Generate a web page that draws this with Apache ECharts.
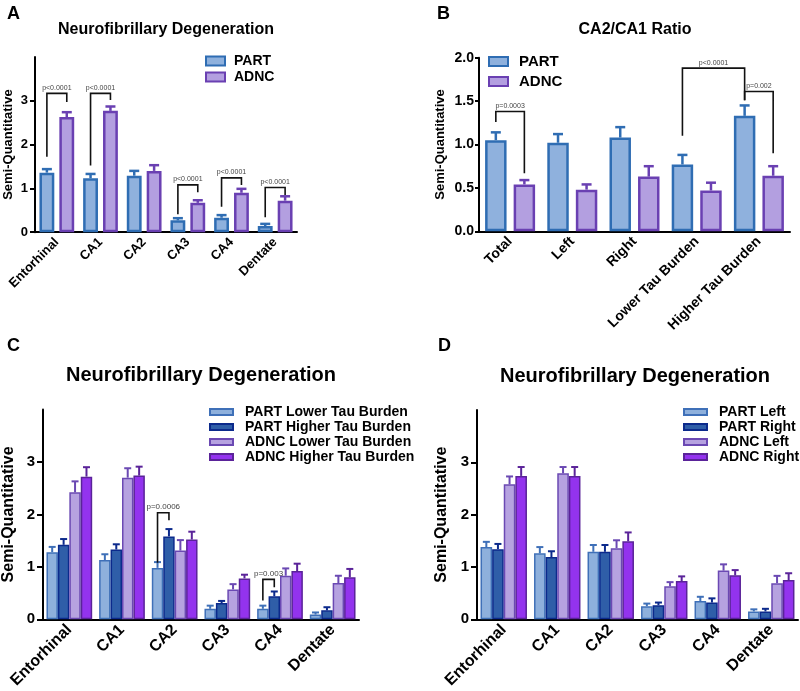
<!DOCTYPE html>
<html><head><meta charset="utf-8">
<script src="https://cdn.jsdelivr.net/npm/echarts@6/dist/echarts.min.js"></script>
<style>html,body{margin:0;padding:0;background:#fff}#c{width:800px;height:691px}</style>
</head><body><div id="c"></div>
<script>
// ---------- DATA ----------
const regions = ['Entorhinal', 'CA1', 'CA2', 'CA3', 'CA4', 'Dentate'];
const ratioCats = ['Total', 'Left', 'Right', 'Lower Tau Burden', 'Higher Tau Burden'];

// Panel A
const aPART = [1.36, 1.23, 1.29, 0.27, 0.33, 0.14];
const aPARTErr = [0.08, 0.10, 0.11, 0.05, 0.06, 0.05];
const aADNC = [2.63, 2.77, 1.40, 0.67, 0.90, 0.72];
const aADNCErr = [0.11, 0.10, 0.13, 0.06, 0.09, 0.10];

// Panel B
const bPART = [1.05, 1.02, 1.08, 0.77, 1.33];
const bPARTErr = [0.09, 0.10, 0.12, 0.11, 0.12];
const bADNC = [0.54, 0.48, 0.63, 0.47, 0.64];
const bADNCErr = [0.05, 0.06, 0.12, 0.09, 0.11];

// Panel C
const cPARTLow = [1.28, 1.13, 0.98, 0.20, 0.20, 0.09];
const cPARTLowErr = [0.10, 0.11, 0.11, 0.06, 0.06, 0.04];
const cPARTHigh = [1.42, 1.33, 1.58, 0.31, 0.44, 0.17];
const cPARTHighErr = [0.11, 0.10, 0.14, 0.04, 0.09, 0.06];
const cADNCLow = [2.42, 2.70, 1.31, 0.57, 0.83, 0.69];
const cADNCLowErr = [0.21, 0.18, 0.20, 0.10, 0.14, 0.14];
const cADNCHigh = [2.72, 2.74, 1.52, 0.78, 0.92, 0.80];
const cADNCHighErr = [0.18, 0.17, 0.15, 0.07, 0.14, 0.16];

// Panel D
const dPARTLeft = [1.38, 1.26, 1.29, 0.25, 0.35, 0.15];
const dPARTLeftErr = [0.10, 0.12, 0.13, 0.05, 0.08, 0.04];
const dPARTRight = [1.34, 1.19, 1.29, 0.27, 0.32, 0.15];
const dPARTRightErr = [0.10, 0.11, 0.13, 0.05, 0.08, 0.05];
const dADNCLeft = [2.58, 2.79, 1.36, 0.63, 0.93, 0.69];
const dADNCLeftErr = [0.15, 0.12, 0.15, 0.08, 0.12, 0.14];
const dADNCRight = [2.74, 2.74, 1.49, 0.73, 0.84, 0.75];
const dADNCRightErr = [0.17, 0.17, 0.17, 0.09, 0.10, 0.13];

// Significance annotations: [category, series] endpoints with leg heights, bracket top
const aBrackets = [
  { l: [0, 0, 1.72], r: [0, 1, 2.97], top: 3.17, label: 'p<0.0001' },
  { l: [1, 0, 1.52], r: [1, 1, 3.02], top: 3.17, label: 'p<0.0001' },
  { l: [3, 0, 0.41], r: [3, 1, 0.91], top: 1.08, label: 'p<0.0001' },
  { l: [4, 0, 0.58], r: [4, 1, 1.08], top: 1.24, label: 'p<0.0001' },
  { l: [5, 0, 0.34], r: [5, 1, 0.85], top: 1.02, label: 'p<0.0001' }
];
const bBrackets = [
  { l: [0, 0, 1.26], r: [0, 1, 0.67], top: 1.38, label: 'p=0.0003' },
  { l: [3, 0, 1.10], r: [4, 0, 1.51], top: 1.88, label: 'p<0.0001' },
  { l: [4, 0, 1.51], r: [4, 1, 0.90], top: 1.61, label: 'p=0.002' }
];
const cBrackets = [
  { l: [2, 0, 1.08], r: [2, 1, 1.89], top: 2.03, label: 'p=0.0006' },
  { l: [4, 0, 0.36], r: [4, 1, 0.61], top: 0.76, label: 'p=0.003' }
];
const dBrackets = [];

const abTicks = [0, 1, 2, 3];
const bTicks = [0, 0.5, 1, 1.5, 2];

// ---------- STYLE ----------
const FONT = '"Liberation Sans", Arial, Helvetica, sans-serif';
const COL = {
  partFill: '#8fb1dd', partBorder: '#2f6db3',
  adncFill: '#b39fe0', adncBorder: '#6a40b2',
  pLowFill: '#8eb0dc', pLowBorder: '#3f70b8',
  pHighFill: '#2f5ea8', pHighBorder: '#0c2a8c',
  aLowFill: '#b6a2e0', aLowBorder: '#6b49b3',
  aHighFill: '#9333ee', aHighBorder: '#5a2399'
};

const option = {
  animation: false, backgroundColor: '#fff',
  grid: [], xAxis: [], yAxis: [], series: [], legend: [], title: [], graphic: []
};

function makePanel(p) {
  const gi = option.grid.length;
  const n = p.series.length;
  const offset = (i, band) => {
    const w = band * p.barW / 100, g = w * p.gap / 100;
    const total = n * w + (n - 1) * g;
    return -total / 2 + i * (w + g) + w / 2;
  };
  option.grid.push({ left: p.grid[0], top: p.grid[1], width: p.grid[2], height: p.grid[3] });
  option.xAxis.push({
    type: 'category', gridIndex: gi, data: p.cats,
    axisLine: { lineStyle: { color: '#000', width: 2 } },
    axisTick: { show: false },
    axisLabel: { rotate: 45, interval: 0, color: '#000', fontWeight: 'bold', fontSize: p.xFont, fontFamily: FONT, margin: p.xMargin },
    splitLine: { show: false }
  });
  option.yAxis.push({
    type: 'value', gridIndex: gi, min: 0, max: p.max, interval: p.step,
    name: 'Semi-Quantitative', nameLocation: 'middle', nameGap: p.nameGap,
    nameTextStyle: { color: '#000', fontWeight: 'bold', fontSize: p.nameFont, fontFamily: FONT },
    axisLine: { show: true, lineStyle: { color: '#000', width: 2 } },
    axisTick: { show: true, length: p.tickLen, lineStyle: { color: '#000', width: 2 }, customValues: p.ticks },
    axisLabel: { customValues: p.ticks, color: '#000', fontWeight: 'bold', fontSize: p.yFont, fontFamily: FONT, margin: p.yMargin,
      formatter: v => p.fixed ? v.toFixed(1) : String(v) },
    splitLine: { show: false }
  });
  p.series.forEach((s) => {
    option.series.push({
      type: 'bar', name: s.name, xAxisIndex: gi, yAxisIndex: gi, data: s.values,
      barWidth: p.barW + '%', barGap: p.gap + '%',
      itemStyle: { color: s.fill, borderColor: s.border, borderWidth: p.bw },
      emphasis: { disabled: true }, z: 2
    });
  });
  p.series.forEach((s, i) => {
    option.series.push({
      type: 'custom', xAxisIndex: gi, yAxisIndex: gi, silent: true, z: 3,
      data: s.values.map((v, k) => [k, v, s.errs[k]]),
      encode: { x: 0, y: 1 },
      renderItem: (params, api) => {
        const k = api.value(0), v = api.value(1), e = api.value(2);
        const band = api.size([1, 0])[0];
        const c0 = api.coord([k, v]);
        const c1 = api.coord([k, v + e]);
        const x = c0[0] + offset(i, band);
        return {
          type: 'group', children: [
            { type: 'line', shape: { x1: x, y1: c0[1], x2: x, y2: c1[1] }, style: { stroke: s.border, lineWidth: p.ew } },
            { type: 'line', shape: { x1: x - p.cap / 2, y1: c1[1], x2: x + p.cap / 2, y2: c1[1] }, style: { stroke: s.border, lineWidth: p.ew } }
          ]
        };
      }
    });
  });
  if (p.brackets.length) {
    option.series.push({
      type: 'custom', xAxisIndex: gi, yAxisIndex: gi, silent: true, z: 4,
      data: p.brackets.map(b => [b.l[0], b.top]),
      encode: { x: 0, y: 1 },
      renderItem: (params, api) => {
        const b = p.brackets[params.dataIndex];
        const band = api.size([1, 0])[0];
        const xl = api.coord([b.l[0], 0])[0] + offset(b.l[1], band);
        const xr = api.coord([b.r[0], 0])[0] + offset(b.r[1], band);
        const yl = api.coord([b.l[0], b.l[2]])[1];
        const yr = api.coord([b.r[0], b.r[2]])[1];
        const yt = api.coord([b.l[0], b.top])[1];
        return {
          type: 'group', children: [
            { type: 'polyline', shape: { points: [[xl, yl], [xl, yt], [xr, yt], [xr, yr]] }, style: { stroke: '#111', lineWidth: 1.6, fill: null } },
            { type: 'text', style: { x: (xl + xr) / 2, y: yt - 2, text: b.label, align: 'center', verticalAlign: 'bottom', fill: '#444', font: p.pFont + 'px ' + FONT } }
          ]
        };
      }
    });
  }
  option.legend.push({
    data: p.series.map(s => s.name), orient: 'vertical', left: p.legendPos[0], top: p.legendPos[1],
    padding: 0, itemWidth: p.legendIcon[0], itemHeight: p.legendIcon[1], itemGap: p.legendGap,
    icon: 'rect', selectedMode: false,
    textStyle: { color: '#000', fontWeight: 'bold', fontSize: p.legendFont, fontFamily: FONT, padding: [0, 0, 0, p.legendTextPad] }
  });
  option.title.push({
    text: p.title, left: p.titlePos[0], top: p.titlePos[1], textAlign: 'center', padding: 0,
    textStyle: { color: '#000', fontWeight: 'bold', fontSize: p.titleFont, fontFamily: FONT }
  });
  option.graphic.push({
    type: 'text', x: p.letterPos[0], y: p.letterPos[1],
    style: { text: p.letter, fill: '#000', font: 'bold 18px ' + FONT, align: 'left', verticalAlign: 'middle' }
  });
}

makePanel({
  letter: 'A', letterPos: [7, 14], title: 'Neurofibrillary Degeneration', titlePos: [166, 22], titleFont: 16,
  grid: [35, 57, 262, 175.2], cats: regions, max: 4, step: 1, ticks: abTicks, fixed: false,
  xFont: 13, xMargin: 8, yFont: 13, nameFont: 13, nameGap: 20, tickLen: 5, yMargin: 7,
  barW: 34, gap: 34, bw: 2.5, ew: 2.5, cap: 10, pFont: 7,
  legendPos: [205, 54], legendIcon: [19, 9], legendGap: 2, legendFont: 14, legendTextPad: 4,
  brackets: aBrackets,
  series: [
    { name: 'PART', values: aPART, errs: aPARTErr, fill: COL.partFill, border: COL.partBorder },
    { name: 'ADNC', values: aADNC, errs: aADNCErr, fill: COL.adncFill, border: COL.adncBorder }
  ]
});

makePanel({
  letter: 'B', letterPos: [437, 14], title: 'CA2/CA1 Ratio', titlePos: [635, 22], titleFont: 16,
  grid: [479, 57.7, 311, 173.6], cats: ratioCats, max: 2, step: 0.5, ticks: bTicks, fixed: true,
  xFont: 14, xMargin: 8, yFont: 14, nameFont: 13, nameGap: 32, tickLen: 4, yMargin: 5,
  barW: 34.5, gap: 33, bw: 2.5, ew: 2.5, cap: 10, pFont: 7,
  legendPos: [488, 54], legendIcon: [19, 9], legendGap: 5, legendFont: 15, legendTextPad: 6,
  brackets: bBrackets,
  series: [
    { name: 'PART', values: bPART, errs: bPARTErr, fill: COL.partFill, border: COL.partBorder },
    { name: 'ADNC', values: bADNC, errs: bADNCErr, fill: COL.adncFill, border: COL.adncBorder }
  ]
});

makePanel({
  letter: 'C', letterPos: [7, 346], title: 'Neurofibrillary Degeneration', titlePos: [201, 365], titleFont: 20,
  grid: [41, 409.5, 318, 212.8], cats: regions, max: 4, step: 1, ticks: abTicks, fixed: false,
  xFont: 16, xMargin: 8, yFont: 15, nameFont: 16, nameGap: 26, tickLen: 6, yMargin: 8,
  barW: 21.7, gap: 0, bw: 1.5, ew: 2, cap: 7, pFont: 8,
  legendPos: [209, 405], legendIcon: [23, 6], legendGap: 1, legendFont: 14, legendTextPad: 7,
  brackets: cBrackets,
  series: [
    { name: 'PART Lower Tau Burden', values: cPARTLow, errs: cPARTLowErr, fill: COL.pLowFill, border: COL.pLowBorder },
    { name: 'PART Higher Tau Burden', values: cPARTHigh, errs: cPARTHighErr, fill: COL.pHighFill, border: COL.pHighBorder },
    { name: 'ADNC Lower Tau Burden', values: cADNCLow, errs: cADNCLowErr, fill: COL.aLowFill, border: COL.aLowBorder },
    { name: 'ADNC Higher Tau Burden', values: cADNCHigh, errs: cADNCHighErr, fill: COL.aHighFill, border: COL.aHighBorder }
  ]
});

makePanel({
  letter: 'D', letterPos: [438, 346], title: 'Neurofibrillary Degeneration', titlePos: [635, 366], titleFont: 20,
  grid: [477, 410, 321, 211], cats: regions, max: 4, step: 1, ticks: abTicks, fixed: false,
  xFont: 16, xMargin: 8, yFont: 15, nameFont: 16, nameGap: 27, tickLen: 6, yMargin: 8,
  barW: 21.7, gap: 0, bw: 1.5, ew: 2, cap: 7, pFont: 8,
  legendPos: [683, 405], legendIcon: [23, 6], legendGap: 1, legendFont: 14, legendTextPad: 7,
  brackets: dBrackets,
  series: [
    { name: 'PART Left', values: dPARTLeft, errs: dPARTLeftErr, fill: COL.pLowFill, border: COL.pLowBorder },
    { name: 'PART Right', values: dPARTRight, errs: dPARTRightErr, fill: COL.pHighFill, border: COL.pHighBorder },
    { name: 'ADNC Left', values: dADNCLeft, errs: dADNCLeftErr, fill: COL.aLowFill, border: COL.aLowBorder },
    { name: 'ADNC Right', values: dADNCRight, errs: dADNCRightErr, fill: COL.aHighFill, border: COL.aHighBorder }
  ]
});

const chart = echarts.init(document.getElementById('c'), null, { renderer: 'canvas' });
chart.setOption(option);
</script>
</body></html>
